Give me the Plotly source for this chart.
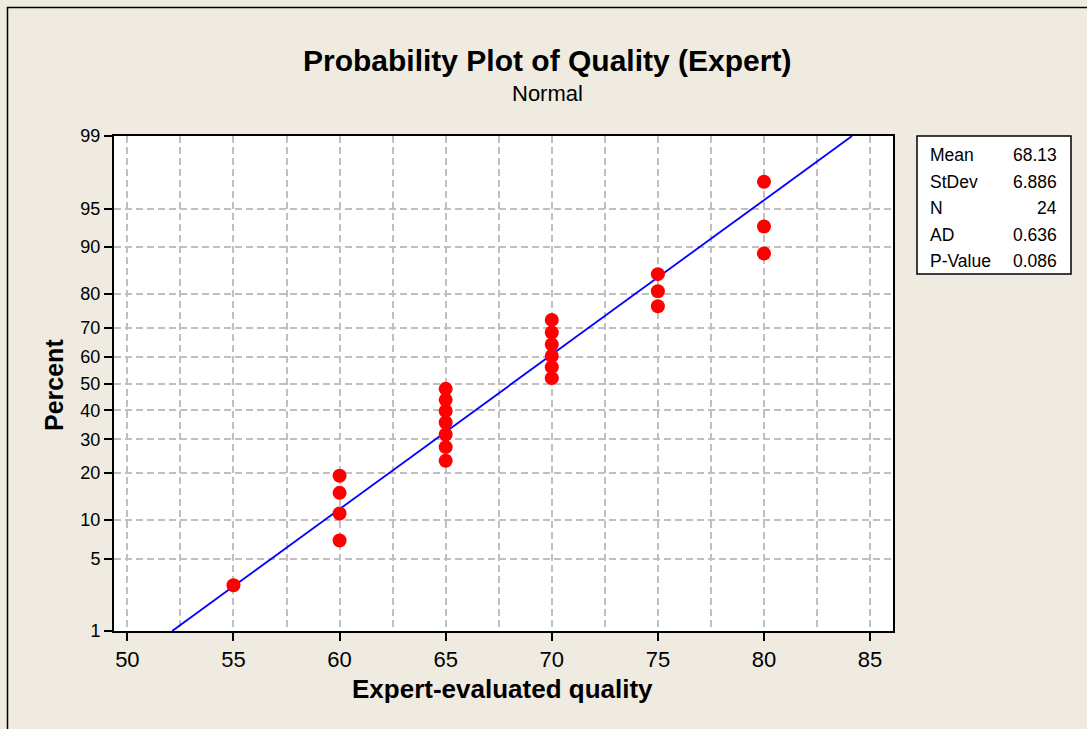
import plotly.graph_objects as go
from statistics import NormalDist

# ---- data ----
quality = [55, 60, 60, 60, 60, 65, 65, 65, 65, 65, 65, 65,
           70, 70, 70, 70, 70, 70, 75, 75, 75, 80, 80, 80]
percent = [2.9, 7.0, 11.1, 15.2, 19.3, 23.4, 27.5, 31.6, 35.7, 39.8, 43.9, 48.0,
           52.0, 56.1, 60.2, 64.3, 68.4, 72.5, 76.6, 80.7, 84.8, 88.9, 93.0, 97.1]
y_tick_labels = [1, 5, 10, 20, 30, 40, 50, 60, 70, 80, 90, 95, 99]
x_ticks = [50, 55, 60, 65, 70, 75, 80, 85]
stat_labels = ["Mean", "StDev", "N", "AD", "P-Value"]
stat_values = ["68.13", "6.886", "24", "0.636", "0.086"]
fit_mean = 68.13
fit_sd = 6.886
fit_percent_ends = [1, 99]

nd = NormalDist()
def probit(p):
    return nd.inv_cdf(p / 100.0)

FONT = "Liberation Sans, Arial, sans-serif"
BG = "#EFEBE1"

# plot-area pixel geometry
L, R, T, B = 114, 893, 136, 631
W, H = 1087, 729
def px(xp):
    return (xp - L) / (R - L)
def py(yp):
    return (B - yp) / (B - T)

fig = go.Figure()

# fitted line
fit_z = [probit(p) for p in fit_percent_ends]
fit_x = [fit_mean + fit_sd * z for z in fit_z]
fig.add_trace(go.Scatter(x=fit_x, y=fit_z, mode="lines",
                         line=dict(color="#0000FF", width=1.8),
                         hoverinfo="skip", showlegend=False))

# data points
fig.add_trace(go.Scatter(x=quality, y=[probit(p) for p in percent], mode="markers",
                         marker=dict(color="#FF0000", size=14, line=dict(width=0)),
                         showlegend=False))

grid = dict(gridcolor="#C0C0C0", gridwidth=1.5, griddash="7px,4px")

fig.update_xaxes(range=[49.37, 86.08], tickvals=x_ticks,
                 ticks="outside", ticklen=8, tickwidth=1.5, tickcolor="black",
                 showline=True, linecolor="black", linewidth=2, mirror=True,
                 showgrid=True, zeroline=False,
                 tickfont=dict(family=FONT, size=22, color="black"),
                 minor=dict(dtick=2.5, tick0=50, showgrid=True, ticks="", **grid),
                 **grid)

zmax = probit(99)
fig.update_yaxes(range=[-zmax, zmax], tickvals=[probit(v) for v in y_tick_labels],
                 ticktext=[str(v) for v in y_tick_labels],
                 ticks="outside", ticklen=8, tickwidth=1.5, tickcolor="black",
                 showline=True, linecolor="black", linewidth=2, mirror=True,
                 showgrid=True, zeroline=False,
                 tickfont=dict(family=FONT, size=18, color="black"),
                 **grid)

ann = []
# title & subtitle
ann.append(dict(x=px(547), y=py(60.5), xref="paper", yref="paper",
                text="Probability Plot of Quality (Expert)", showarrow=False,
                xanchor="center", yanchor="middle",
                font=dict(family=FONT, size=30, color="black", weight="bold")))
ann.append(dict(x=px(547), y=py(94), xref="paper", yref="paper",
                text="Normal", showarrow=False, xanchor="center", yanchor="middle",
                font=dict(family=FONT, size=22, color="black")))
# axis titles
ann.append(dict(x=px(502), y=py(689), xref="paper", yref="paper",
                text="Expert-evaluated quality", showarrow=False,
                xanchor="center", yanchor="middle",
                font=dict(family=FONT, size=26, color="black", weight="bold")))
ann.append(dict(x=px(54), y=py(385), xref="paper", yref="paper",
                text="Percent", showarrow=False, textangle=-90,
                xanchor="center", yanchor="middle",
                font=dict(family=FONT, size=25, color="black", weight="bold")))
# stats box
row_y = [155, 182, 208, 235, 261]
for lab, val, yy in zip(stat_labels, stat_values, row_y):
    ann.append(dict(x=px(928), y=py(yy), xref="paper", yref="paper", text=lab,
                    showarrow=False, xanchor="left", yanchor="middle",
                    font=dict(family=FONT, size=17.5, color="black")))
    ann.append(dict(x=px(1059), y=py(yy), xref="paper", yref="paper", text=val,
                    showarrow=False, xanchor="right", yanchor="middle",
                    font=dict(family=FONT, size=17.5, color="black")))

shapes = [
    dict(type="rect", xref="paper", yref="paper", x0=px(917), x1=px(1071),
         y0=py(274), y1=py(136), line=dict(color="black", width=1.5),
         fillcolor="white"),
    dict(type="path", xref="paper", yref="paper",
         path=f"M {px(7.5)} {py(729)} L {px(7.5)} {py(7.5)} L {px(1087)} {py(7.5)}",
         line=dict(color="black", width=1.5)),
]

fig.update_layout(width=W, height=H,
                  margin=dict(l=L, r=W - R, t=T, b=H - B, pad=0),
                  paper_bgcolor=BG, plot_bgcolor="white",
                  annotations=ann, shapes=shapes, showlegend=False,
                  font=dict(family=FONT, color="black"))

fig.write_html("out.html")
